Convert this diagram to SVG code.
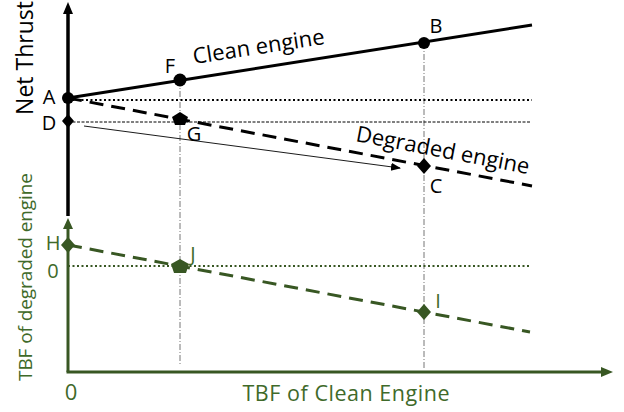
<svg xmlns="http://www.w3.org/2000/svg" width="624" height="412" viewBox="0 0 624 412">
<defs>
<marker id="thinArrow" viewBox="0 0 10 10" refX="9" refY="5" markerWidth="10" markerHeight="10" markerUnits="userSpaceOnUse" orient="auto">
<path d="M0,1 L10,5 L0,9 Z" fill="#000"/>
</marker>
</defs>
<style>
text{font-family:"Open Sans","Liberation Sans",sans-serif;}
.lbl{font-size:20px;fill:#000;}
.glbl{font-size:20px;fill:#3f6a2a;}
.guide{stroke:#777;stroke-width:1;stroke-dasharray:6 2 1 2;fill:none;}
.blk{fill:#000;}
.grn{fill:#385723;}
</style>
<rect width="624" height="412" fill="#fff"/>
<g id="connectors">
<line class="guide" x1="180" y1="80" x2="180" y2="365"/>
<line class="guide" x1="424" y1="43" x2="424" y2="370"/>
<line x1="68" y1="100" x2="532" y2="100" stroke="#000" stroke-width="2" stroke-dasharray="2 2.5"/>
<line x1="68" y1="122" x2="530" y2="122" stroke="#000" stroke-width="1" stroke-dasharray="3 1.5"/>
<line x1="68" y1="98" x2="532" y2="25" stroke="#000" stroke-width="3"/>
<line x1="68" y1="98" x2="532" y2="186" stroke="#000" stroke-width="3" stroke-dasharray="14 8"/>
<line x1="84" y1="126" x2="400" y2="168" stroke="#000" stroke-width="0.9" marker-end="url(#thinArrow)"/>
<line x1="68" y1="266" x2="530" y2="266" stroke="#385723" stroke-width="2" stroke-dasharray="2 2.5"/>
<line x1="68" y1="245" x2="530" y2="332" stroke="#385723" stroke-width="3" stroke-dasharray="14 8"/>
</g>
<g id="axis-net-thrust">
<line x1="68" y1="12" x2="68" y2="216" stroke="#000" stroke-width="3.5"/>
<path d="M68,2 L73,14 L63,14 Z" class="blk"/>
<text transform="translate(33,58) rotate(-90)" text-anchor="middle" font-size="23" fill="#000">Net Thrust</text>
</g>
<g id="axis-tbf-degraded">
<line x1="68" y1="227" x2="68" y2="372" stroke="#385723" stroke-width="3"/>
<path d="M68,218 L73,229 L63,229 Z" class="grn"/>
<text transform="translate(32,277) rotate(-90)" text-anchor="middle" font-size="19" fill="#3f6a2a" textLength="208">TBF of degraded engine</text>
</g>
<g id="axis-tbf-clean">
<line x1="66.5" y1="372" x2="603" y2="372" stroke="#385723" stroke-width="3"/>
<path d="M613,372 L601,367 L601,377 Z" class="grn"/>
<text x="346" y="401" text-anchor="middle" font-size="21.5" fill="#3f6a2a" textLength="207">TBF of Clean Engine</text>
<text x="71" y="400" text-anchor="middle" font-size="22" fill="#3f6a2a">0</text>
</g>
<g id="clean-engine-label">
<text transform="translate(194,64) rotate(-8.7)" font-size="22" fill="#000" textLength="133">Clean engine</text>
</g>
<g id="degraded-engine-label">
<text transform="translate(355,141) rotate(10.8)" font-size="22" fill="#000" textLength="176">Degraded engine</text>
</g>
<g id="node-A">
<circle cx="68" cy="98" r="6" class="blk"/>
<text x="49" y="104" text-anchor="middle" class="lbl">A</text>
</g>
<g id="node-D">
<path d="M68,114 L74,121 L68,128 L62,121 Z" class="blk"/>
<text x="49" y="130" text-anchor="middle" class="lbl">D</text>
</g>
<g id="node-F">
<circle cx="180" cy="80" r="6.5" class="blk"/>
<text x="170" y="73" text-anchor="middle" class="lbl">F</text>
</g>
<g id="node-B">
<circle cx="424" cy="43" r="6" class="blk"/>
<text x="436" y="33" text-anchor="middle" class="lbl">B</text>
</g>
<g id="node-G">
<path d="M180,112 L188,117 L185,125 L175,125 L172,117 Z" class="blk"/>
<text x="194" y="141" text-anchor="middle" class="lbl">G</text>
</g>
<g id="node-C">
<path d="M424,158 L431,166 L424,174 L417,166 Z" class="blk"/>
<text x="436" y="193" text-anchor="middle" class="lbl">C</text>
</g>
<g id="node-H">
<path d="M68,237 L75,245 L68,253 L61,245 Z" class="grn"/>
<text x="53" y="250" text-anchor="middle" class="glbl">H</text>
</g>
<g id="node-zero">
<text x="53" y="278" text-anchor="middle" class="glbl">0</text>
</g>
<g id="node-J">
<path d="M180,259 L189,264 L186,273 L174,273 L171,264 Z" class="grn"/>
<text x="193" y="261" text-anchor="middle" class="glbl">J</text>
</g>
<g id="node-I">
<path d="M424,304 L431,312 L424,320 L417,312 Z" class="grn"/>
<text x="438" y="308" text-anchor="middle" class="glbl">I</text>
</g>
</svg>
